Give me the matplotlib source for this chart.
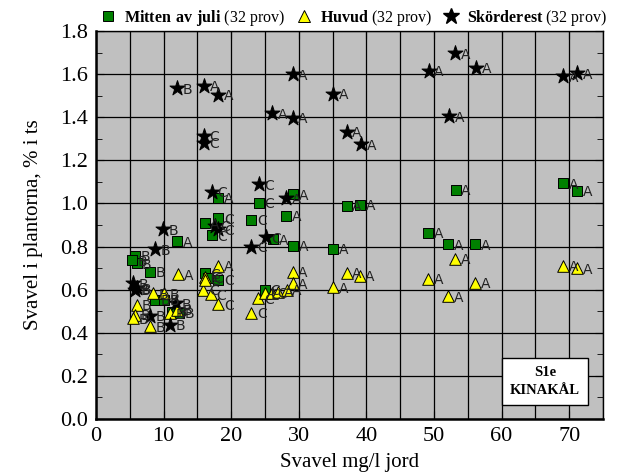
import matplotlib.pyplot as plt
from matplotlib.lines import Line2D
from matplotlib.ticker import MultipleLocator

plt.rcParams['font.family'] = ['Liberation Serif', 'DejaVu Serif']
plt.rcParams['mathtext.fontset'] = 'custom'
plt.rcParams['mathtext.rm'] = 'Liberation Serif'
plt.rcParams['mathtext.bf'] = 'Liberation Serif:bold'

# Mitten av juli (squares)
juli_x = [5.8, 6.0, 5.3, 8.0, 8.7, 10.1, 11.2, 12.3, 12.0, 16.1, 18.1, 16.1,
          18.1, 17.1, 18.1, 23.0, 24.1, 26.2, 25.0, 28.1, 29.2, 29.2, 35.1,
          37.1, 39.1, 49.1, 52.1, 53.2, 56.1, 69.1, 71.2, 16.6]
juli_y = [0.756, 0.722, 0.737, 0.683, 0.552, 0.552, 0.498, 0.493, 0.825, 0.676,
          0.645, 0.908, 0.931, 0.853, 1.027, 0.923, 1.003, 0.833, 0.600, 0.943,
          1.042, 0.804, 0.790, 0.990, 0.995, 0.863, 0.810, 1.062, 0.810, 1.093,
          1.058, 0.655]
juli_lab = ['B', 'B', 'B', 'B', 'B', 'B', 'B', 'B', 'A', 'C', 'C', 'A',
            'C', 'C', 'A', 'C', 'C', 'A', 'C', 'A', 'A', 'A', 'A',
            'A', 'A', 'A', 'A', 'A', 'A', 'A', 'A', 'C']

# Huvud (triangles)
huvud_x = [6.0, 5.8, 5.5, 8.0, 8.5, 10.1, 11.0, 12.0, 12.2, 16.1, 18.1, 15.9,
           17.0, 18.1, 23.0, 24.0, 25.0, 26.0, 27.0, 28.2, 29.1, 29.1, 35.1,
           37.1, 39.0, 49.1, 52.1, 53.1, 56.1, 69.1, 71.2, 16.1]
huvud_y = [0.529, 0.482, 0.467, 0.430, 0.583, 0.583, 0.490, 0.506, 0.672, 0.660,
           0.710, 0.598, 0.578, 0.533, 0.493, 0.560, 0.583, 0.586, 0.590, 0.600,
           0.683, 0.629, 0.611, 0.677, 0.663, 0.650, 0.570, 0.742, 0.631, 0.710,
           0.700, 0.645]
huvud_lab = ['B', 'B', 'B', 'B', 'B', 'B', 'B', 'B', 'A', 'C', 'A', 'C',
             'C', 'C', 'C', 'C', 'C', 'C', 'A', 'A', 'A', 'A', 'A',
             'A', 'A', 'A', 'A', 'A', 'A', 'A', 'A', 'C']

# Skörderest (stars)
skord_x = [12.0, 16.0, 18.1, 29.1, 26.1, 29.1, 35.1, 37.1, 39.2, 49.2, 53.1,
           56.2, 52.2, 69.1, 71.2, 16.0, 16.0, 17.1, 24.1, 28.1, 18.1, 25.1,
           23.0, 8.7, 5.5, 5.8, 6.0, 11.9, 8.0, 11.0, 9.9, 17.6]
skord_y = [1.535, 1.545, 1.503, 1.600, 1.418, 1.398, 1.510, 1.333, 1.275, 1.616,
           1.696, 1.630, 1.405, 1.590, 1.603, 1.313, 1.282, 1.054, 1.089, 1.024,
           0.880, 0.843, 0.800, 0.787, 0.630, 0.598, 0.606, 0.537, 0.478, 0.436,
           0.880, 0.895]
skord_lab = ['B', 'A', 'A', 'A', 'A', 'A', 'A', 'A', 'A', 'A', 'A',
             'A', 'A', 'A', 'A', 'C', 'C', 'C', 'C', 'A', 'C', 'C',
             'C', 'B', 'B', 'B', 'B', 'B', 'B', 'B', 'B', 'C']

fig = plt.figure(figsize=(6.18, 4.75), dpi=100)
ax = fig.add_axes([0.1553, 0.1179, 0.8204, 0.8168])
ax.set_facecolor('#c0c0c0')


def draw(xs, ys, labs, marker, color, size):
    ax.scatter(xs, ys, marker=marker, s=size, c=color, edgecolors='black',
               linewidths=0.7, zorder=3)
    for x, y, t in zip(xs, ys, labs):
        ax.annotate(t, (x, y), xytext=(4, -1), textcoords='offset points',
                    va='center', ha='left', fontsize=10, color='#222222',
                    family='DejaVu Sans', zorder=4)


draw(juli_x, juli_y, juli_lab, 's', '#008000', 55)
draw(huvud_x, huvud_y, huvud_lab, '^', '#ffff00', 70)
draw(skord_x, skord_y, skord_lab, '*', 'black', 130)

ax.set_xlim(0, 75)
ax.set_ylim(0, 1.8)
ax.xaxis.set_major_locator(MultipleLocator(10))
ax.xaxis.set_minor_locator(MultipleLocator(5))
ax.yaxis.set_major_locator(MultipleLocator(0.2))
ax.yaxis.set_minor_locator(MultipleLocator(0.1))
ax.set_yticklabels([f'{v:.1f}' for v in ax.get_yticks()])
ax.grid(True, which='major', color='black', lw=0.9)
ax.grid(True, which='minor', axis='x', color='black', lw=0.9)
ax.set_axisbelow(True)
ax.tick_params(which='both', direction='in', top=True, right=True, labelsize=16)
ax.tick_params(which='major', length=6, pad=6)
ax.tick_params(which='minor', length=4)
for side in ['left', 'bottom']:
    ax.spines[side].set_linewidth(1.8)
for side in ['top', 'right']:
    ax.spines[side].set_linewidth(1.0)

ax.set_xlabel('Svavel mg/l jord', fontsize=15, labelpad=5)
ax.set_ylabel('Svavel i plantorna, % i ts', fontsize=15, labelpad=12)

ax.text(0.886, 0.096, 'S1e\nKINAKÅL', transform=ax.transAxes, ha='center',
        va='center', fontsize=10.5, fontweight='bold', linespacing=1.5,
        bbox=dict(boxstyle='square,pad=0.55', fc='white', ec='black', lw=1),
        zorder=5)

handles = [
    Line2D([], [], ls='', marker='s', ms=7, mfc='#008000', mec='black', mew=0.7),
    Line2D([], [], ls='', marker='^', ms=8, mfc='#ffff00', mec='black', mew=0.7),
    Line2D([], [], ls='', marker='*', ms=12, mfc='black', mec='black'),
]
labels = [r'$\mathbf{Mitten\ av\ juli}$ (32 prov)',
          r'$\mathbf{Huvud}$ (32 prov)',
          r'$\mathbf{Skörderest}$ (32 prov)']
fig.legend(handles, labels, loc='center', bbox_to_anchor=(0.572, 0.962), ncol=3,
           frameon=False, fontsize=11.5, handlelength=1.0, handletextpad=0.5,
           columnspacing=0.7, borderpad=0)

fig.savefig('out.png', dpi=100)
